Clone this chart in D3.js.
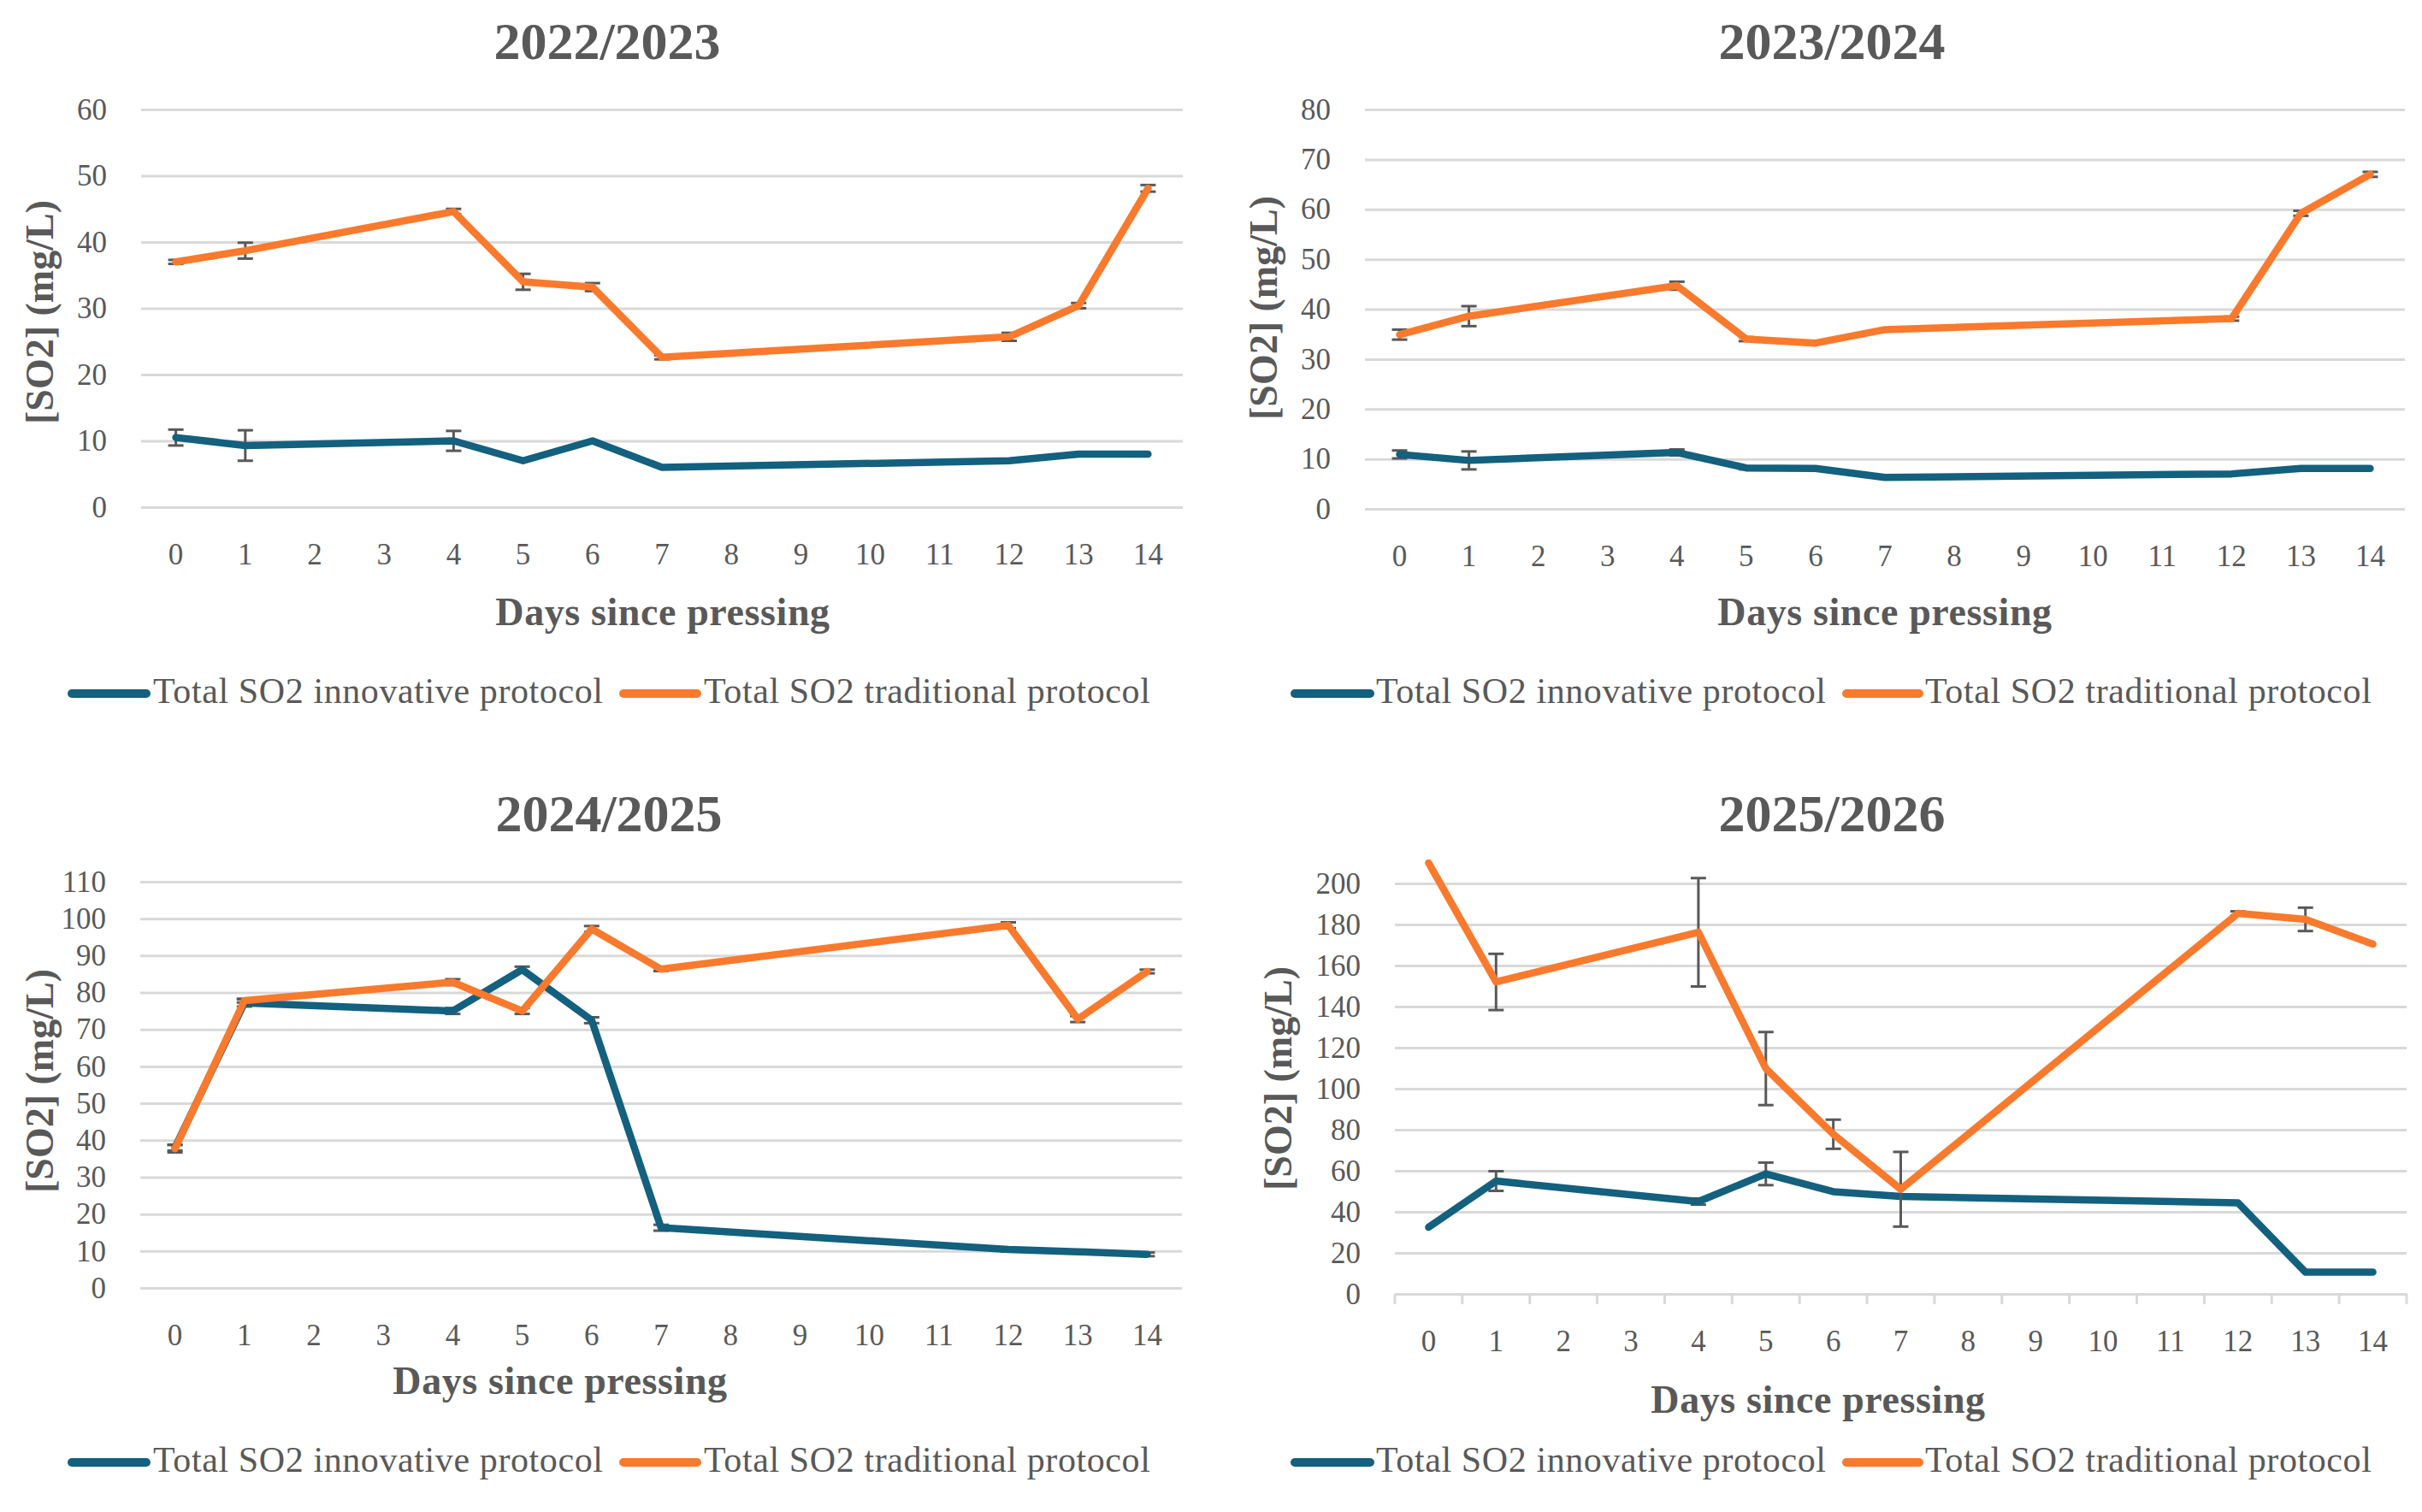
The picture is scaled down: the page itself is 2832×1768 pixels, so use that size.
<!DOCTYPE html>
<html>
<head>
<meta charset="utf-8">
<script src="https://cdn.jsdelivr.net/npm/d3@7/dist/d3.min.js"></script>
<style>
  html, body { margin: 0; padding: 0; background: #ffffff; }
  svg { display: block; }
  text { font-family: 'Liberation Serif', 'Times New Roman', serif; fill: #595959; }
</style>
</head>
<body>
<svg id="chart" width="2832" height="1768"></svg>
<script>
// ---------------- DATA ----------------
const days = [0, 1, 2, 3, 4, 5, 6, 7, 8, 9, 10, 11, 12, 13, 14];
const seriesNames = ["Total SO2 innovative protocol", "Total SO2 traditional protocol"];
const titles = ["2022/2023", "2023/2024", "2024/2025", "2025/2026"];
const xAxisTitle = "Days since pressing";
const yAxisTitle = "[SO2] (mg/L)";

const yTicks2223 = [0, 10, 20, 30, 40, 50, 60];
const yTicks2324 = [0, 10, 20, 30, 40, 50, 60, 70, 80];
const yTicks2425 = [0, 10, 20, 30, 40, 50, 60, 70, 80, 90, 100, 110];
const yTicks2526 = [0, 20, 40, 60, 80, 100, 120, 140, 160, 180, 200];

const inno2223    = [10.5, 9.3, null, null, 10.0, 7.0, 10.0, 6.0, null, null, null, null, 7.0, 8.0, 8.0];
const inno2223Err = [1.2, 2.3, null, null, 1.5, 0, 0, 0, null, null, null, null, 0, 0, 0];
const trad2223    = [37.0, 38.7, null, null, 44.6, 34.0, 33.2, 22.6, null, null, null, null, 25.7, 30.4, 48.1];
const trad2223Err = [0.3, 1.2, null, null, 0.4, 1.2, 0.6, 0.3, null, null, null, null, 0.6, 0.4, 0.5];

const inno2324    = [10.9, 9.7, null, null, 11.3, 8.2, 8.1, 6.3, null, null, null, null, 7.0, 8.1, 8.1];
const inno2324Err = [0.8, 1.8, null, null, 0.6, 0.3, 0, 0, null, null, null, null, 0, 0, 0];
const trad2324    = [34.9, 38.6, null, null, 44.7, 34.0, 33.2, 35.9, null, null, null, null, 38.1, 59.2, 67.0];
const trad2324Err = [1.0, 2.0, null, null, 0.8, 0.4, 0, 0, null, null, null, null, 0.4, 0.5, 0.5];

const inno2425    = [38.0, 77.2, null, null, 75.0, 86.2, 72.5, 16.3, null, null, null, null, 10.4, 9.8, 9.1];
const inno2425Err = [0.8, 1.0, null, null, 0.8, 0.8, 0.8, 0.8, null, null, null, null, 0.5, 0, 0.5];
const trad2425    = [37.7, 77.8, null, null, 82.8, 75.0, 97.2, 86.3, null, null, null, null, 98.2, 72.8, 85.7];
const trad2425Err = [1.0, 0.5, null, null, 0.8, 0.8, 0.8, 0.5, null, null, null, null, 0.8, 0.8, 0.5];

const inno2526    = [32.5, 55.0, null, null, 45.0, 58.5, 49.8, 47.5, null, null, null, null, 44.4, 10.6, 10.6];
const inno2526Err = [0, 4.8, null, null, 1.5, 5.5, 0, 0, null, null, null, null, 0, 0, 0];
const trad2526    = [210.0, 152.0, null, null, 176.2, 109.8, 77.8, 51.0, null, null, null, null, 185.4, 182.5, 170.4];
const trad2526Err = [0, 13.7, null, null, 26.4, 17.8, 7.1, 18.2, null, null, null, null, 1.0, 5.7, 0];

const colors = ["#13607f", "#f97a2d"];

// ---------------- LAYOUT ----------------
const panels = [
  { title: titles[0], ticks: yTicks2223, series: [[inno2223, inno2223Err], [trad2223, trad2223Err]],
    x0: 165, x1: 1383, yBot: 593, yTop: 128, titleX: 710, titleY: 69,
    xTitleX: 775, xTitleY: 731, yTitleX: 62, yTitleY: 365,
    legY: 811, leg: [[84, 171, 179], [729, 815, 823]], axisTicks: false },
  { title: titles[1], ticks: yTicks2324, series: [[inno2324, inno2324Err], [trad2324, trad2324Err]],
    x0: 1596, x1: 2812, yBot: 595, yTop: 128, titleX: 2142, titleY: 69,
    xTitleX: 2204, xTitleY: 731, yTitleX: 1493, yTitleY: 360,
    legY: 811, leg: [[1514, 1602, 1609], [2159, 2244, 2251]], axisTicks: false },
  { title: titles[2], ticks: yTicks2425, series: [[inno2425, inno2425Err], [trad2425, trad2425Err]],
    x0: 164, x1: 1382, yBot: 1506, yTop: 1031, titleX: 712, titleY: 972,
    xTitleX: 655, xTitleY: 1630, yTitleX: 62, yTitleY: 1264,
    legY: 1710, leg: [[84, 171, 179], [729, 815, 823]], axisTicks: false },
  { title: titles[3], ticks: yTicks2526, series: [[inno2526, inno2526Err], [trad2526, trad2526Err]],
    x0: 1631, x1: 2814, yBot: 1513, yTop: 1033, titleX: 2142, titleY: 972,
    xTitleX: 2126, xTitleY: 1652, yTitleX: 1510, yTitleY: 1261,
    legY: 1710, leg: [[1514, 1602, 1609], [2159, 2244, 2251]], axisTicks: true }
];

const svg = d3.select("#chart");

panels.forEach(p => {
  const g = svg.append("g");
  const x = d3.scaleBand().domain(days).range([p.x0, p.x1]).paddingInner(0).paddingOuter(0);
  const yMax = p.ticks[p.ticks.length - 1];
  const y = d3.scaleLinear().domain([0, yMax]).range([p.yBot, p.yTop]);
  const cx = d => x(d) + x.bandwidth() / 2;

  // Y axis with gridlines
  const yAxis = d3.axisLeft(y).tickValues(p.ticks).tickSize(-(p.x1 - p.x0)).tickPadding(40).tickFormat(d3.format("d"));
  const ya = g.append("g").attr("transform", `translate(${p.x0},0)`).call(yAxis);
  ya.select(".domain").remove();
  ya.selectAll(".tick line").attr("stroke", "#d9d9d9").attr("stroke-width", 3);
  ya.selectAll(".tick text").attr("font-size", 35).attr("fill", "#595959")
    .style("font-family", "'Liberation Serif', serif");

  // X axis
  const xAxis = d3.axisBottom(x).tickSize(0).tickPadding(0);
  const xa = g.append("g").attr("transform", `translate(0,${p.yBot})`).call(xAxis);
  xa.selectAll(".tick text").attr("font-size", 35).attr("fill", "#595959").attr("y", 67).attr("dy", 0)
    .style("font-family", "'Liberation Serif', serif");
  if (p.axisTicks) {
    xa.select(".domain").attr("stroke", "#d9d9d9").attr("stroke-width", 3);
    const bounds = days.map(d => x(d)).concat([p.x1]);
    xa.selectAll(".bt").data(bounds).enter().append("line").attr("class", "bt")
      .attr("x1", d => d).attr("x2", d => d).attr("y1", 0).attr("y2", 12)
      .attr("stroke", "#d9d9d9").attr("stroke-width", 3);
  } else {
    xa.select(".domain").remove();
  }

  // Series: error bars + lines
  p.series.forEach((s, si) => {
    const vals = s[0], errs = s[1];
    const pts = days.map((d, i) => ({ d, v: vals[i], e: errs[i] })).filter(o => o.v !== null);
    const eb = g.append("g");
    pts.filter(o => o.e > 0).forEach(o => {
      const xc = cx(o.d), yt = y(o.v + o.e), yb = y(o.v - o.e);
      eb.append("line").attr("x1", xc).attr("x2", xc).attr("y1", yt).attr("y2", yb)
        .attr("stroke", "#595959").attr("stroke-width", 3);
      [yt, yb].forEach(yy => eb.append("line").attr("x1", xc - 9).attr("x2", xc + 9)
        .attr("y1", yy).attr("y2", yy).attr("stroke", "#595959").attr("stroke-width", 3));
    });
    const line = d3.line().x(o => cx(o.d)).y(o => y(o.v));
    g.append("path").datum(pts).attr("d", line).attr("fill", "none")
      .attr("stroke", colors[si]).attr("stroke-width", 8.5)
      .attr("stroke-linejoin", "round").attr("stroke-linecap", "round");
  });

  // Titles
  g.append("text").attr("x", p.titleX).attr("y", p.titleY).attr("text-anchor", "middle")
    .attr("font-size", 62).attr("font-weight", "bold").text(p.title);
  g.append("text").attr("x", p.xTitleX).attr("y", p.xTitleY).attr("text-anchor", "middle")
    .attr("font-size", 46).attr("font-weight", "bold").attr("letter-spacing", 0.6).text(xAxisTitle);
  g.append("text").attr("transform", `translate(${p.yTitleX},${p.yTitleY}) rotate(-90)`)
    .attr("text-anchor", "middle").attr("font-size", 46).attr("font-weight", "bold").text(yAxisTitle);

  // Legend
  p.leg.forEach((l, i) => {
    g.append("line").attr("x1", l[0]).attr("x2", l[1]).attr("y1", p.legY).attr("y2", p.legY)
      .attr("stroke", colors[i]).attr("stroke-width", 10).attr("stroke-linecap", "round");
    g.append("text").attr("x", l[2]).attr("y", p.legY + 11).attr("font-size", 42)
      .attr("letter-spacing", 0.6).text(seriesNames[i]);
  });
});
</script>
</body>
</html>
